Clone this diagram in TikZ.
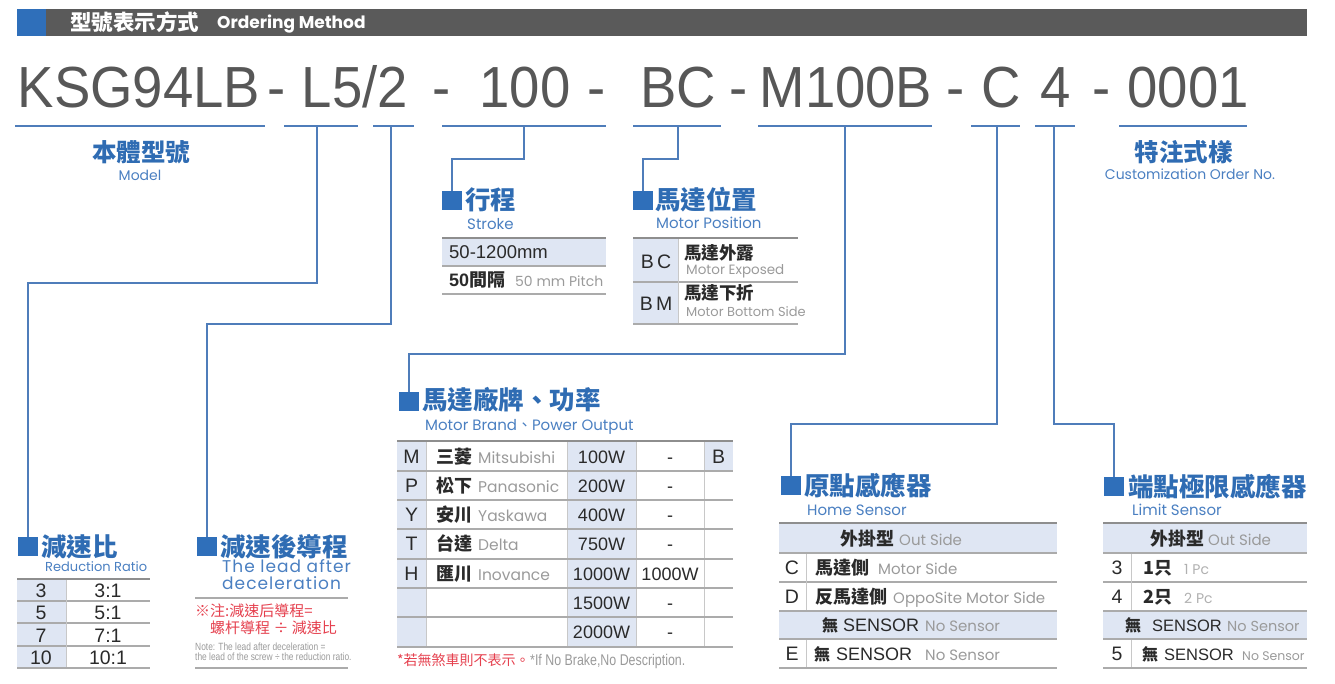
\documentclass[tikz,border=0pt]{standalone}
\usepackage{fontspec}
\setmainfont{Liberation Sans}
\newfontfamily\cjk{Noto Sans CJK TC}
\newfontfamily\pop{Poppins}
\newfontfamily\popsp[LetterSpace=6]{Poppins}
\newfontfamily\codef[FakeStretch=0.94]{Liberation Sans}
\newfontfamily\narf[FakeStretch=0.8]{Liberation Sans}
\definecolor{hdrgray}{HTML}{5A5A5A}
\definecolor{sqblue}{HTML}{2F6FBA}
\definecolor{lineblue}{HTML}{4F7DBA}
\definecolor{ttlblue}{HTML}{2F6CB3}
\definecolor{subblue}{HTML}{4A7FC1}
\definecolor{codegray}{HTML}{575757}
\definecolor{cellbg}{HTML}{DFE6F3}
\definecolor{rulegray}{HTML}{ABABAB}
\definecolor{rulegrayd}{HTML}{8E8E8E}
\definecolor{vrule}{HTML}{C8C8C8}
\definecolor{txtdark}{HTML}{2A2A2A}
\definecolor{txtgray}{HTML}{9A9A9A}
\definecolor{txtlgray}{HTML}{B0B0B0}
\definecolor{notered}{HTML}{E5404E}
\tikzset{
 conn/.style={draw=lineblue,line width=1.6pt},
 sqbox/.style={fill=sqblue,minimum width=20pt,minimum height=19pt,inner sep=0pt,outer sep=0pt},
 ttl/.style={anchor=base west,inner sep=0pt,text=ttlblue,font=\cjk\bfseries\fontsize{25.5}{25.5}\selectfont},
 sublbl/.style={anchor=base west,inner sep=0pt,text=subblue,font=\pop\fontsize{15}{15}\selectfont},
 codetxt/.style={anchor=base,inner sep=0pt,text=codegray,font=\codef\fontsize{58}{58}\selectfont},
 tline/.style={draw=rulegray,line width=1.3pt},
 ttop/.style={draw=rulegrayd,line width=2pt},
 vline/.style={draw=vrule,line width=0.8pt},
 cellfill/.style={fill=cellbg},
 cjkb/.style={inner sep=0pt,anchor=base west,text=txtdark,font=\cjk\bfseries\fontsize{18}{18}\selectfont},
 entxt/.style={inner sep=0pt,anchor=base west,text=txtgray,font=\pop\fontsize{15}{15}\selectfont},
 arc/.style={inner sep=0pt,anchor=base,text=txtdark,font=\fontsize{19.5}{19.5}\selectfont},
 arl/.style={inner sep=0pt,anchor=base west,text=txtdark,font=\fontsize{18}{18}\selectfont},
 pw/.style={inner sep=0pt,anchor=base,text=txtdark,font=\fontsize{18}{18}\selectfont},
}
\begin{document}
\begin{tikzpicture}[x=1pt,y=-1pt]
\useasboundingbox (0,0) rectangle (1335,683);
% header
\fill[sqblue] (17,9) rectangle (46,36);
\fill[hdrgray] (46,9) rectangle (1307,36);
\node[anchor=base west,inner sep=0pt,text=white,font=\cjk\bfseries\fontsize{21.5}{21.5}\selectfont] (hdrC) at (70,30.5) {型號表示方式};
\node[anchor=base west,inner sep=0pt,text=white,font=\pop\bfseries\fontsize{17}{17}\selectfont] (hdrE) at (217,28.5) {Ordering Method};
% code
\node[codetxt] (cK) at (139,107) {KSG94LB};
\node[codetxt] (cD1) at (277,107) {-};
\node[codetxt] (cL) at (355,107) {L5/2};
\node[codetxt] (cD2) at (442,107) {-};
\node[codetxt] (cS) at (525,107) {100};
\node[codetxt] (cD3) at (597,107) {-};
\node[codetxt] (cB) at (678,107) {BC};
\node[codetxt] (cD4) at (739,107) {-};
\node[codetxt] (cM) at (846,107) {M100B};
\node[codetxt] (cD5) at (956,107) {-};
\node[codetxt] (cC) at (1001,107) {C};
\node[codetxt] (c4) at (1056,107) {4};
\node[codetxt] (cD6) at (1102,107) {-};
\node[codetxt] (c0) at (1188,107) {0001};
% underlines
\draw[conn] (15,126) -- (265,126);
\draw[conn] (284,126) -- (358,126);
\draw[conn] (373,126) -- (414,126);
\draw[conn] (442,126) -- (606,126);
\draw[conn] (633,126) -- (721,126);
\draw[conn] (758,126) -- (932,126);
\draw[conn] (971,126) -- (1020,126);
\draw[conn] (1035,126) -- (1075,126);
\draw[conn] (1119,126) -- (1247,126);
\coordinate (jL) at (317,126);
\coordinate (j52) at (391,126);
\coordinate (j100) at (524,126);
\coordinate (jBC) at (678,126);
\coordinate (jM) at (845,126);
\coordinate (jC) at (997,126);
\coordinate (j4) at (1054,126);
% squares
\node[sqbox] (sqRed) at (28,546) {};
\node[sqbox] (sqLead) at (207,546) {};
\node[sqbox] (sqStroke) at (452,200) {};
\node[sqbox] (sqPos) at (643,200) {};
\node[sqbox] (sqBrand) at (409,401) {};
\node[sqbox] (sqHome) at (791,485.5) {};
\node[sqbox] (sqLim) at (1114,486.5) {};
% connectors
\draw[conn] (jL) -- ++(0,157) -| (sqRed.north);
\draw[conn] (j52) -- ++(0,198) -| (sqLead.north);
\draw[conn] (j100) -- ++(0,33) -| (sqStroke.north);
\draw[conn] (jBC) -- ++(0,33) -| (sqPos.north);
\draw[conn] (jM) -- ++(0,228) -| (sqBrand.north);
\draw[conn] (jC) -- ++(0,298) -| (sqHome.north);
\draw[conn] (j4) -- ++(0,298) -| (sqLim.north);
% model / custom labels
\node[anchor=base,inner sep=0pt,text=ttlblue,font=\cjk\bfseries\fontsize{24.5}{24.5}\selectfont] (tModel) at (141,161) {本體型號};
\node[anchor=base,inner sep=0pt,text=subblue,font=\pop\fontsize{14}{14}\selectfont] (sModel) at (140,180) {Model};
\node[anchor=base,inner sep=0pt,text=ttlblue,font=\cjk\bfseries\fontsize{24.5}{24.5}\selectfont] (tCust) at (1183.5,161) {特注式樣};
\node[anchor=base,inner sep=0pt,text=subblue,font=\pop\fontsize{14}{14}\selectfont] (sCust) at (1190,179) {Customization Order No.};
% titles
\node[ttl] (tStroke) at (465,209.5) {行程};
\node[sublbl] (sStroke) at (467,229) {Stroke};
\node[ttl] (tPos) at (655,209.5) {馬達位置};
\node[sublbl] (sPos) at (656,228) {Motor Position};
\node[ttl] (tBrand) at (422,409) {馬達廠牌、功率};
\node[sublbl] (sBrand) at (425,430) {Motor Brand{\cjk 、}Power Output};
\node[ttl] (tHome) at (804,495.5) {原點感應器};
\node[sublbl] (sHome) at (807,515) {Home Sensor};
\node[ttl] (tLim) at (1128,496.5) {端點極限感應器};
\node[sublbl] (sLim) at (1132,515) {Limit Sensor};
\node[ttl] (tRed) at (41,556) {減速比};
\node[sublbl,font=\pop\fontsize{13}{13}\selectfont] (sRed) at (45,571) {Reduction Ratio};
\node[ttl] (tLead) at (220,556) {減速後導程};
\node[sublbl,font=\popsp\fontsize{17}{17}\selectfont] (sLead1) at (222,572) {The lead after};
\node[sublbl,font=\popsp\fontsize{17}{17}\selectfont] (sLead2) at (222,589) {deceleration};
% stroke table
\fill[cellfill] (442,238) rectangle (606,266);
\draw[tline] (442,266) -- (606,266);
\draw[tline] (442,294) -- (606,294);
\draw[ttop] (442,238) -- (606,238);
\node[arl,font=\fontsize{18.5}{18.5}\selectfont] (st1) at (449,258.5) {50-1200mm};
\node[arl,font=\bfseries\fontsize{18}{18}\selectfont] (st2) at (449,286) {50{\cjk\bfseries 間隔}};
\node[entxt,font=\pop\fontsize{14}{14}\selectfont] (st3) at (515,286) {50 mm Pitch};
% motor position table
\fill[cellfill] (633,238) rectangle (678,324);
\draw[ttop] (633,238) -- (798,238);
\draw[tline] (633,282) -- (798,282);
\draw[tline] (633,324) -- (798,324);
\draw[vline] (678,239) -- (678,323);
\node[arc] (pBC) at (656,268) {B\,C};
\node[arc] (pBM) at (656,310) {B\,M};
\node[cjkb,font=\cjk\bfseries\fontsize{17.5}{17.5}\selectfont] (pBCc) at (684,259.5) {馬達外露};
\node[entxt,font=\pop\fontsize{13.5}{13.5}\selectfont] (pBCe) at (686,274) {Motor Exposed};
\node[cjkb,font=\cjk\bfseries\fontsize{17.5}{17.5}\selectfont] (pBMc) at (684,299) {馬達下折};
\node[entxt,font=\pop\fontsize{13}{13}\selectfont] (pBMe) at (686,316) {Motor Bottom Side};
% reduction ratio table
\fill[cellfill] (17,579) rectangle (66,668);
\draw[ttop] (17,579) -- (150,579);
\draw[tline] (17,601) -- (150,601);
\draw[tline] (17,623) -- (150,623);
\draw[tline] (17,646) -- (150,646);
\draw[tline] (17,668) -- (150,668);
\draw[vline] (66,580) -- (66,667);
\node[arc] (r1a) at (41,597.5) {3};
\node[arc] (r1b) at (108,597.5) {3:1};
\node[arc] (r2a) at (41,619.5) {5};
\node[arc] (r2b) at (108,619.5) {5:1};
\node[arc] (r3a) at (41,642) {7};
\node[arc] (r3b) at (108,642) {7:1};
\node[arc] (r4a) at (41,664.5) {10};
\node[arc] (r4b) at (108,664.5) {10:1};
% lead note
\draw[tline] (195,598) -- (348,598);
\draw[tline] (195,668) -- (348,668);
\node[anchor=base west,inner sep=0pt,text=notered,font=\cjk\fontsize{15}{15}\selectfont] (n1) at (195,616) {※注:減速后導程=};
\node[anchor=base west,inner sep=0pt,text=notered,font=\cjk\fontsize{15}{15}\selectfont] (n2) at (210,633.5) {螺杆導程 ÷ 減速比};
\node[anchor=base west,inner sep=0pt,text=txtgray,font=\narf\fontsize{10.5}{10.5}\selectfont] (n3) at (195,650) {Note: The lead after deceleration =};
\node[anchor=base west,inner sep=0pt,text=txtgray,font=\narf\fontsize{10.5}{10.5}\selectfont] (n4) at (195,660) {the lead of the screw ÷ the reduction ratio.};
% motor brand table
\fill[cellfill] (397,441) rectangle (426,647);
\fill[cellfill] (567,441) rectangle (636,647);
\fill[cellfill] (704,441) rectangle (733,471);
\draw[vline] (426,442) -- (426,646);
\draw[vline] (567,442) -- (567,646);
\draw[vline] (636,442) -- (636,646);
\draw[vline] (704,442) -- (704,646);
\draw[ttop] (397,441) -- (733,441);
\foreach \yy in {471,500,529,559,588,617,647} \draw[tline] (397,\yy) -- (733,\yy);
\node[arc] (bM) at (411.5,463) {M};
\node[arc] (bP) at (411.5,492) {P};
\node[arc] (bY) at (411.5,521) {Y};
\node[arc] (bT) at (411.5,550.5) {T};
\node[arc] (bH) at (411.5,580) {H};
\node[cjkb] (bMc) at (436,463) {三菱};
\node[cjkb] (bPc) at (436,492) {松下};
\node[cjkb] (bYc) at (436,521) {安川};
\node[cjkb] (bTc) at (436,550.5) {台達};
\node[cjkb] (bHc) at (436,580) {匯川};
\node[entxt,font=\pop\fontsize{15.5}{15.5}\selectfont] (bMe) at (478,463) {Mitsubishi};
\node[entxt,font=\pop\fontsize{15.5}{15.5}\selectfont] (bPe) at (478,492) {Panasonic};
\node[entxt,font=\pop\fontsize{15.5}{15.5}\selectfont] (bYe) at (478,521) {Yaskawa};
\node[entxt,font=\pop\fontsize{15.5}{15.5}\selectfont] (bTe) at (478,550.5) {Delta};
\node[entxt,font=\pop\fontsize{15.5}{15.5}\selectfont] (bHe) at (478,580) {Inovance};
\node[pw] (w1) at (601.5,463) {100W};
\node[pw] (w2) at (601.5,492) {200W};
\node[pw] (w3) at (601.5,521) {400W};
\node[pw] (w4) at (601.5,550.5) {750W};
\node[pw] (w5) at (601.5,580) {1000W};
\node[pw] (w6) at (601.5,609) {1500W};
\node[pw] (w7) at (601.5,638.5) {2000W};
\node[pw] (x1) at (670,463) {-};
\node[pw] (x2) at (670,492) {-};
\node[pw] (x3) at (670,521) {-};
\node[pw] (x4) at (670,550.5) {-};
\node[pw] (x5) at (670,580) {1000W};
\node[pw] (x6) at (670,609) {-};
\node[pw] (x7) at (670,638.5) {-};
\node[arc] (bB) at (718.5,463) {B};
\node[anchor=base west,inner sep=0pt,text=notered,font=\cjk\fontsize{14}{14}\selectfont] (bn1) at (397,665) {*若無煞車則不表示。};
\node[anchor=base west,inner sep=0pt,text=txtgray,font=\narf\fontsize{15.5}{15.5}\selectfont] (bn2) at (530,665) {*If No Brake,No Description.};
% home sensor table
\fill[cellfill] (779,523) rectangle (1057,553);
\fill[cellfill] (779,611) rectangle (1057,639);
\draw[ttop] (779,523) -- (1057,523);
\foreach \yy in {553,582,611,639,668} \draw[tline] (779,\yy) -- (1057,\yy);
\draw[vline] (806,554) -- (806,610);
\draw[vline] (806,640) -- (806,667);
\node[cjkb] (h1a) at (840,545) {外掛型};
\node[entxt] (h1b) at (899,545) {Out Side};
\node[arc] (hC) at (792,574) {C};
\node[cjkb] (hCc) at (815,574) {馬達側};
\node[entxt] (hCe) at (878,574) {Motor Side};
\node[arc] (hD) at (792,603) {D};
\node[cjkb] (hDc) at (815,603) {反馬達側};
\node[entxt] (hDe) at (893,603) {OppoSite Motor Side};
\node[cjkb,font=\cjk\bfseries\fontsize{16}{16}\selectfont] (h4a) at (822,631.5) {無};
\node[arl] (h4b) at (843,631.5) {SENSOR};
\node[entxt] (h4c) at (925,631.5) {No Sensor};
\node[arc] (hE) at (792,660) {E};
\node[cjkb,font=\cjk\bfseries\fontsize{16}{16}\selectfont] (hEa) at (814,660) {無};
\node[arl] (hEb) at (836,660) {SENSOR};
\node[entxt] (hEc) at (925,660) {No Sensor};
% limit sensor table
\fill[cellfill] (1103,523) rectangle (1307,553);
\fill[cellfill] (1103,611) rectangle (1307,639);
\draw[ttop] (1103,523) -- (1307,523);
\foreach \yy in {553,582,611,639,668} \draw[tline] (1103,\yy) -- (1307,\yy);
\draw[vline] (1131,554) -- (1131,610);
\draw[vline] (1131,640) -- (1131,667);
\node[cjkb] (l1a) at (1150,545) {外掛型};
\node[entxt] (l1b) at (1208,545) {Out Side};
\node[arc] (l3) at (1117,574) {3};
\node[cjkb] (l3a) at (1143,574) {1只};
\node[entxt,text=txtlgray,font=\pop\fontsize{14}{14}\selectfont] (l3b) at (1184,574) {1 Pc};
\node[arc] (l4) at (1117,603) {4};
\node[cjkb] (l4a) at (1143,603) {2只};
\node[entxt,text=txtlgray,font=\pop\fontsize{14}{14}\selectfont] (l4b) at (1184,603) {2 Pc};
\node[cjkb,font=\cjk\bfseries\fontsize{16}{16}\selectfont] (lNa) at (1125,631.5) {無};
\node[arl,font=\fontsize{16.5}{16.5}\selectfont] (lNb) at (1152,631.5) {SENSOR};
\node[entxt,font=\pop\fontsize{14.5}{14.5}\selectfont] (lNc) at (1227,631.5) {No Sensor};
\node[arc] (l5) at (1117,660) {5};
\node[cjkb,font=\cjk\bfseries\fontsize{16}{16}\selectfont] (l5a) at (1142,660) {無};
\node[arl,font=\fontsize{16.5}{16.5}\selectfont] (l5b) at (1164,660) {SENSOR};
\node[entxt,font=\pop\fontsize{12.5}{12.5}\selectfont] (l5c) at (1242,660) {No Sensor};
\end{tikzpicture}
\end{document}
